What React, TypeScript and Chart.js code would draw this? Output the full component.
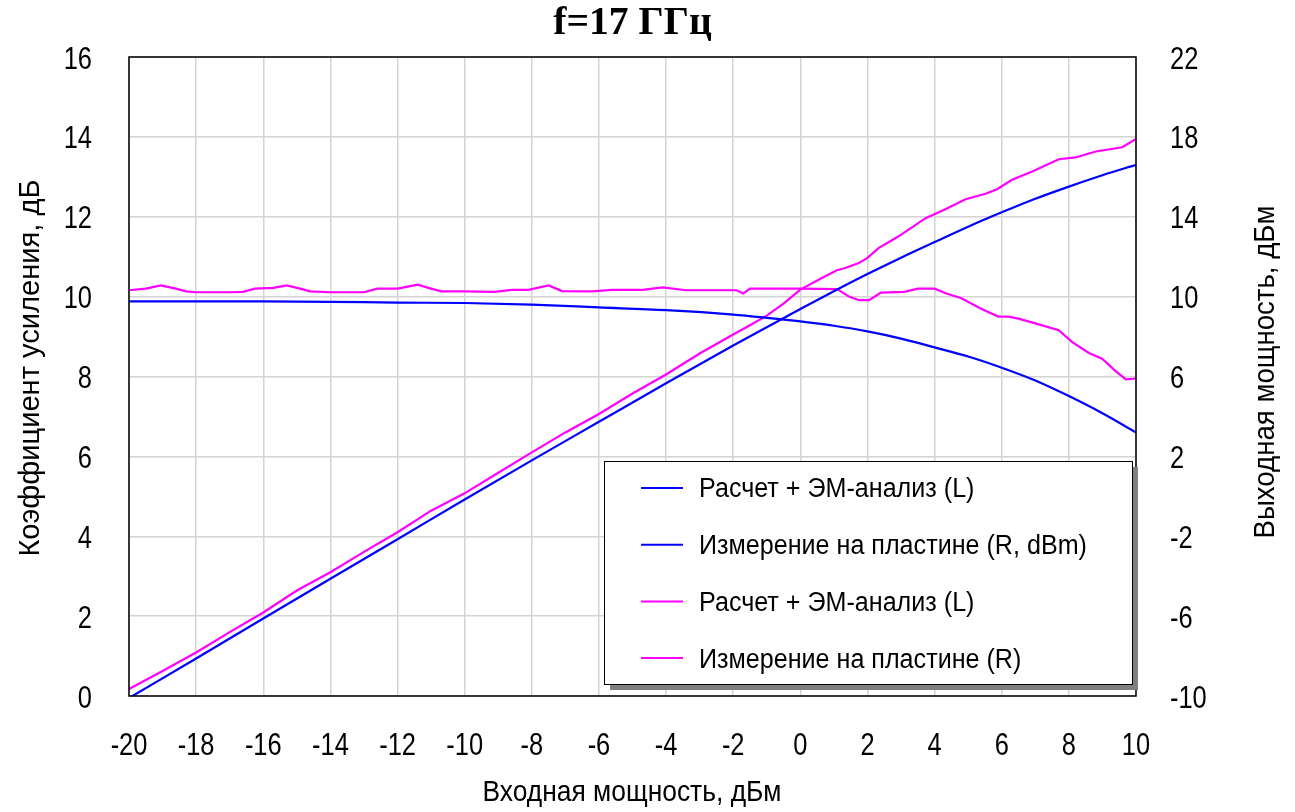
import React, { useEffect, useRef } from "react";
import { Chart, registerables } from "chart.js";

Chart.register(...registerables);

const titleText = "f=17 ГГц";
const xAxisTitle = "Входная мощность, дБм";
const yLeftTitle = "Коэффициент усиления, дБ";
const yRightTitle = "Выходная мощность, дБм";

const seriesLabels = [
  "Расчет + ЭМ-анализ (L)",
  "Измерение на пластине (R, dBm)",
  "Расчет + ЭМ-анализ (L)",
  "Измерение на пластине (R)",
];

// Blue (smooth) series
const blueX = [-20, -18, -16, -14, -12, -10, -8, -6, -4, -2, -1, 0, 1, 2, 3, 4, 5, 6, 7, 8, 9, 10];
const blueGain = [9.88, 9.88, 9.88, 9.87, 9.85, 9.84, 9.8, 9.73, 9.66, 9.55, 9.47, 9.38, 9.27, 9.13, 8.95, 8.73, 8.5, 8.22, 7.9, 7.51, 7.08, 6.6];
const bluePout = [-10.1, -8.12, -6.12, -4.13, -2.15, -0.16, 1.8, 3.73, 5.66, 7.55, 8.47, 9.38, 10.27, 11.13, 11.95, 12.73, 13.5, 14.22, 14.9, 15.51, 16.08, 16.6];

// Magenta (measured, jagged) gain
const magGainX = [-20, -19.5, -19.05, -18.6, -18.3, -18, -17, -16.6, -16.25, -15.7, -15.3, -14.9, -14.6, -14, -13, -12.6, -12, -11.4, -11, -10.7, -10, -9.1, -8.6, -8.1, -7.5, -7.1, -6.2, -5.6, -4.7, -4.1, -3.4, -1.9, -1.7, -1.5, 0, 1.1, 1.45, 1.75, 2.05, 2.4, 3.1, 3.5, 4.0, 4.35, 4.8, 5.4, 5.9, 6.2, 6.5, 7.0, 7.7, 8.1, 8.6, 9.0, 9.4, 9.7, 10];
const magGainY = [10.16, 10.2, 10.28, 10.2, 10.13, 10.11, 10.11, 10.12, 10.2, 10.22, 10.28, 10.2, 10.13, 10.11, 10.11, 10.2, 10.2, 10.3, 10.2, 10.13, 10.13, 10.12, 10.17, 10.17, 10.28, 10.14, 10.13, 10.17, 10.17, 10.23, 10.16, 10.16, 10.08, 10.2, 10.2, 10.19, 10.0, 9.91, 9.91, 10.1, 10.12, 10.2, 10.2, 10.08, 9.96, 9.69, 9.5, 9.5, 9.45, 9.33, 9.16, 8.86, 8.59, 8.44, 8.13, 7.93, 7.95];

// Magenta (measured) output power
const magPoutX = [-20, -19, -18, -17, -16, -15, -14, -13, -12, -11, -10, -9, -8, -7, -6, -5, -4, -3, -2, -1.5, -1, -0.5, 0, 0.64, 1.09, 1.34, 1.74, 1.99, 2.33, 2.93, 3.73, 4.32, 4.92, 5.52, 5.86, 6.31, 6.91, 7.7, 8.2, 8.8, 9.59, 10];
const magPoutY = [-9.65, -8.75, -7.82, -6.8, -5.82, -4.72, -3.8, -2.78, -1.8, -0.72, 0.15, 1.18, 2.2, 3.2, 4.12, 5.15, 6.1, 7.15, 8.1, 8.57, 9.05, 9.65, 10.35, 10.93, 11.32, 11.43, 11.68, 11.93, 12.43, 13.02, 13.93, 14.38, 14.88, 15.15, 15.38, 15.85, 16.27, 16.88, 16.97, 17.27, 17.48, 17.9];

const BLUE = "#0000ff";
const MAGENTA = "#ff00ff";
const SANS = "'Liberation Sans', Arial, sans-serif";
const SERIF = "'Liberation Serif', 'Times New Roman', serif";
const TICK_SCALE = 0.82;

const W = 1295;
const H = 812;
const PLOT_LEFT = 129;
const PLOT_RIGHT = 1136;
const PLOT_TOP = 57;
const PLOT_BOTTOM = 696;

const pts = (xs: number[], ys: number[]) => xs.map((x, i) => ({ x, y: ys[i] }));

function drawText(
  ctx: CanvasRenderingContext2D,
  text: string,
  x: number,
  y: number,
  font: string,
  sx: number,
  align: CanvasTextAlign,
  rotate = 0
) {
  ctx.save();
  ctx.translate(x, y);
  if (rotate) ctx.rotate(rotate);
  ctx.scale(sx, 1);
  ctx.font = font;
  ctx.textAlign = align;
  ctx.textBaseline = "middle";
  ctx.fillStyle = "#000";
  ctx.fillText(text, 0, 0);
  ctx.restore();
}

const fmt = (v: number) => (v < 0 ? "-" + Math.abs(v) : String(v));

const framePlugin = {
  id: "frameAndLegend",
  afterDraw(chart: any) {
    const { ctx, chartArea, scales } = chart;
    ctx.save();
    // plot frame
    ctx.strokeStyle = "#000";
    ctx.lineWidth = 1.5;
    ctx.strokeRect(chartArea.left, chartArea.top, chartArea.right - chartArea.left, chartArea.bottom - chartArea.top);

    // title
    drawText(ctx, titleText, (chartArea.left + chartArea.right) / 2, 24, `bold 40px ${SERIF}`, 0.99, "center");

    // tick labels
    const tickFont = `31px ${SANS}`;
    scales.x.ticks.forEach((t: any) => {
      drawText(ctx, fmt(t.value), scales.x.getPixelForValue(t.value), 746, tickFont, TICK_SCALE, "center");
    });
    scales.y.ticks.forEach((t: any) => {
      drawText(ctx, fmt(t.value), 92, scales.y.getPixelForValue(t.value) + 3, tickFont, TICK_SCALE, "right");
    });
    scales.y1.ticks.forEach((t: any) => {
      drawText(ctx, fmt(t.value), 1170, scales.y1.getPixelForValue(t.value) + 3, tickFont, TICK_SCALE, "left");
    });

    // axis titles
    const titleFont = `30px ${SANS}`;
    drawText(ctx, xAxisTitle, 632, 793, titleFont, 0.88, "center");
    drawText(ctx, yLeftTitle, 31, 368, titleFont, 0.97, "center", -Math.PI / 2);
    drawText(ctx, yRightTitle, 1266, 372, titleFont, 0.92, "center", -Math.PI / 2);

    // legend box with shadow
    const bx = 604, by = 461, bw = 528, bh = 223;
    ctx.fillStyle = "#808080";
    ctx.fillRect(bx + 6, by + 6, bw, bh);
    ctx.fillStyle = "#fff";
    ctx.fillRect(bx, by, bw, bh);
    ctx.strokeStyle = "#000";
    ctx.lineWidth = 1;
    ctx.strokeRect(bx + 0.5, by + 0.5, bw, bh);

    const datasets = chart.data.datasets;
    datasets.forEach((ds: any, i: number) => {
      const y = 488 + i * 56.7;
      ctx.strokeStyle = ds.borderColor;
      ctx.lineWidth = 2;
      ctx.beginPath();
      ctx.moveTo(641, y);
      ctx.lineTo(683, y);
      ctx.stroke();
      drawText(ctx, ds.label, 699, y + 2, `27px ${SANS}`, 0.93, "left");
    });
    ctx.restore();
  },
};

export default function App() {
  const ref = useRef<HTMLCanvasElement | null>(null);
  useEffect(() => {
    document.body.style.margin = "0";
    const canvas = ref.current;
    if (!canvas) return;
    const chart = new Chart(canvas, {
      type: "line",
      data: {
        datasets: [
          {
            label: seriesLabels[0],
            data: pts(blueX, blueGain),
            borderColor: BLUE,
            backgroundColor: BLUE,
            borderWidth: 2.2,
            pointRadius: 0,
            cubicInterpolationMode: "monotone",
            yAxisID: "y",
          },
          {
            label: seriesLabels[1],
            data: pts(blueX, bluePout),
            borderColor: BLUE,
            backgroundColor: BLUE,
            borderWidth: 2.2,
            pointRadius: 0,
            cubicInterpolationMode: "monotone",
            yAxisID: "y1",
          },
          {
            label: seriesLabels[2],
            data: pts(magGainX, magGainY),
            borderColor: MAGENTA,
            backgroundColor: MAGENTA,
            borderWidth: 2.2,
            pointRadius: 0,
            tension: 0,
            yAxisID: "y",
          },
          {
            label: seriesLabels[3],
            data: pts(magPoutX, magPoutY),
            borderColor: MAGENTA,
            backgroundColor: MAGENTA,
            borderWidth: 2.2,
            pointRadius: 0,
            tension: 0,
            yAxisID: "y1",
          },
        ],
      },
      options: {
        animation: false,
        responsive: false,
        maintainAspectRatio: false,
        layout: { padding: { top: PLOT_TOP, left: 0, right: 0, bottom: 0 } },
        plugins: {
          legend: { display: false },
          title: { display: false },
          tooltip: { enabled: false },
        },
        scales: {
          x: {
            type: "linear",
            min: -20,
            max: 10,
            afterFit: (s: any) => {
              s.height = H - PLOT_BOTTOM;
            },
            ticks: { stepSize: 2, display: false },
            grid: { color: "#d4d4d4", lineWidth: 1.5, drawTicks: false },
            border: { display: false },
          },
          y: {
            type: "linear",
            position: "left",
            min: 0,
            max: 16,
            afterFit: (s: any) => {
              s.width = PLOT_LEFT;
            },
            ticks: { stepSize: 2, display: false },
            grid: { color: "#d4d4d4", lineWidth: 1.5, drawTicks: false },
            border: { display: false },
          },
          y1: {
            type: "linear",
            position: "right",
            min: -10,
            max: 22,
            afterFit: (s: any) => {
              s.width = W - PLOT_RIGHT;
            },
            ticks: { stepSize: 4, display: false },
            grid: { drawOnChartArea: false, drawTicks: false },
            border: { display: false },
          },
        },
      },
      plugins: [framePlugin],
    });
    return () => chart.destroy();
  }, []);

  return (
    <div style={{ width: W, height: H, background: "#fff" }}>
      <canvas ref={ref} width={W} height={H} style={{ display: "block", width: W, height: H }} />
    </div>
  );
}
